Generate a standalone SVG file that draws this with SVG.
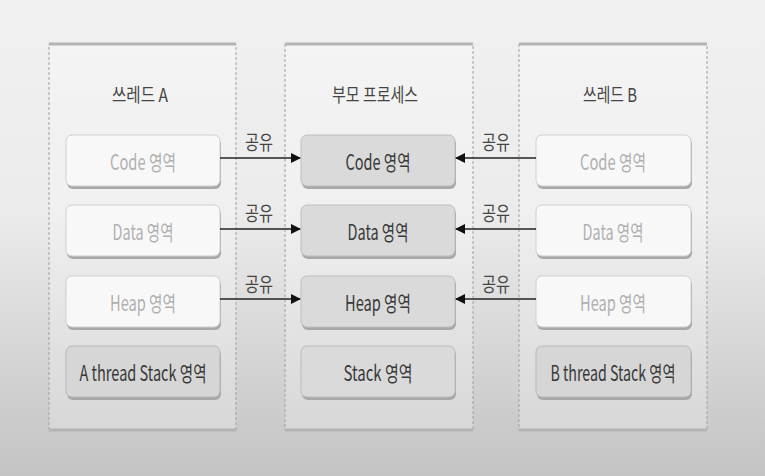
<svg xmlns="http://www.w3.org/2000/svg" width="765" height="476" viewBox="0 0 765 476">
<defs>
<linearGradient id="bg" x1="0" y1="0" x2="0" y2="1">
<stop offset="0" stop-color="#f1f1f1"/>
<stop offset="0.45" stop-color="#ebebeb"/>
<stop offset="1" stop-color="#c3c3c3"/>
</linearGradient>
<marker id="arr" viewBox="0 0 10 10" refX="9" refY="5" markerWidth="10" markerHeight="10" markerUnits="userSpaceOnUse" orient="auto">
<path d="M0,0 L10,5 L0,10 z" fill="#111"/>
</marker>
<style>
text{font-family:"Noto Sans CJK KR","Liberation Sans",sans-serif;text-anchor:middle;dominant-baseline:central;}
.cont{fill:#ffffff;fill-opacity:0.25;stroke:#a0a0a0;stroke-width:1;stroke-dasharray:3 2;}
.edge{stroke:#b4b4b4;stroke-width:3;}
.title{font-size:19px;fill:#444;}
.tbox{fill:#f8f8f8;stroke:#cfcfcf;stroke-width:1;}
.pbox{fill:#dadada;stroke:#bdbdbd;stroke-width:1;}
.sbox{fill:#d6d6d6;stroke:#b8b8b8;stroke-width:1;}
.shadow{fill:#a8a8a8;}
.tlight{font-size:21px;fill:#b0b0b0;}
.tdark{font-size:21px;fill:#383838;}
.share{font-size:20px;fill:#444;}
.conn{stroke:#222;stroke-width:1.5;fill:none;marker-end:url(#arr);}
</style>
</defs>
<rect x="0" y="0" width="765" height="476" fill="url(#bg)"/>

<g id="threadA">
<rect class="cont" x="49" y="44" width="187" height="386"/>
<line class="edge" x1="49" y1="44" x2="236" y2="44"/>
<line class="edge" x1="49" y1="430" x2="236" y2="430"/>
<text class="title" x="140" y="93" textLength="56" lengthAdjust="spacingAndGlyphs">쓰레드 A</text>
</g>
<g id="A-code"><rect class="shadow" x="67" y="138" width="154" height="51" rx="6"/><rect class="tbox" x="66" y="135" width="154" height="51" rx="6"/><text class="tlight" x="143" y="161" textLength="66" lengthAdjust="spacingAndGlyphs">Code 영역</text></g>
<g id="A-data"><rect class="shadow" x="67" y="208" width="154" height="51" rx="6"/><rect class="tbox" x="66" y="205" width="154" height="51" rx="6"/><text class="tlight" x="143" y="231" textLength="61" lengthAdjust="spacingAndGlyphs">Data 영역</text></g>
<g id="A-heap"><rect class="shadow" x="67" y="279" width="154" height="51" rx="6"/><rect class="tbox" x="66" y="276" width="154" height="51" rx="6"/><text class="tlight" x="143" y="302" textLength="66" lengthAdjust="spacingAndGlyphs">Heap 영역</text></g>
<g id="A-stack"><rect class="shadow" x="67" y="349" width="154" height="51" rx="6"/><rect class="sbox" x="66" y="346" width="154" height="51" rx="6"/><text class="tdark" x="143" y="372" textLength="127" lengthAdjust="spacingAndGlyphs">A thread Stack 영역</text></g>

<g id="parent">
<rect class="cont" x="285" y="44" width="188" height="386"/>
<line class="edge" x1="285" y1="44" x2="473" y2="44"/>
<line class="edge" x1="285" y1="430" x2="473" y2="430"/>
<text class="title" x="375" y="93" textLength="86" lengthAdjust="spacingAndGlyphs">부모 프로세스</text>
</g>
<g id="P-code"><rect class="shadow" x="302" y="138" width="154" height="51" rx="6"/><rect class="pbox" x="301" y="135" width="154" height="51" rx="6"/><text class="tdark" x="378" y="161" textLength="65" lengthAdjust="spacingAndGlyphs">Code 영역</text></g>
<g id="P-data"><rect class="shadow" x="302" y="208" width="154" height="51" rx="6"/><rect class="pbox" x="301" y="205" width="154" height="51" rx="6"/><text class="tdark" x="378" y="231" textLength="61" lengthAdjust="spacingAndGlyphs">Data 영역</text></g>
<g id="P-heap"><rect class="shadow" x="302" y="279" width="154" height="51" rx="6"/><rect class="pbox" x="301" y="276" width="154" height="51" rx="6"/><text class="tdark" x="378" y="302" textLength="66" lengthAdjust="spacingAndGlyphs">Heap 영역</text></g>
<g id="P-stack"><rect class="shadow" x="302" y="349" width="154" height="51" rx="6"/><rect class="pbox" x="301" y="346" width="154" height="51" rx="6"/><text class="tdark" x="378" y="372" textLength="69" lengthAdjust="spacingAndGlyphs">Stack 영역</text></g>

<g id="threadB">
<rect class="cont" x="519" y="44" width="188" height="386"/>
<line class="edge" x1="519" y1="44" x2="707" y2="44"/>
<line class="edge" x1="519" y1="430" x2="707" y2="430"/>
<text class="title" x="610" y="93" textLength="54" lengthAdjust="spacingAndGlyphs">쓰레드 B</text>
</g>
<g id="B-code"><rect class="shadow" x="537" y="138" width="155" height="51" rx="6"/><rect class="tbox" x="536" y="135" width="155" height="51" rx="6"/><text class="tlight" x="613" y="161" textLength="66" lengthAdjust="spacingAndGlyphs">Code 영역</text></g>
<g id="B-data"><rect class="shadow" x="537" y="208" width="155" height="51" rx="6"/><rect class="tbox" x="536" y="205" width="155" height="51" rx="6"/><text class="tlight" x="613" y="231" textLength="61" lengthAdjust="spacingAndGlyphs">Data 영역</text></g>
<g id="B-heap"><rect class="shadow" x="537" y="279" width="155" height="51" rx="6"/><rect class="tbox" x="536" y="276" width="155" height="51" rx="6"/><text class="tlight" x="613" y="302" textLength="66" lengthAdjust="spacingAndGlyphs">Heap 영역</text></g>
<g id="B-stack"><rect class="shadow" x="537" y="349" width="155" height="51" rx="6"/><rect class="sbox" x="536" y="346" width="155" height="51" rx="6"/><text class="tdark" x="613" y="372" textLength="125" lengthAdjust="spacingAndGlyphs">B thread Stack 영역</text></g>

<g id="connectors">
<line class="conn" x1="220" y1="158" x2="300" y2="158"/>
<line class="conn" x1="220" y1="229" x2="300" y2="229"/>
<line class="conn" x1="220" y1="299" x2="300" y2="299"/>
<line class="conn" x1="536" y1="158" x2="456" y2="158"/>
<line class="conn" x1="536" y1="229" x2="456" y2="229"/>
<line class="conn" x1="536" y1="299" x2="456" y2="299"/>
<text class="share" x="259" y="141" textLength="28" lengthAdjust="spacingAndGlyphs">공유</text>
<text class="share" x="259" y="212" textLength="28" lengthAdjust="spacingAndGlyphs">공유</text>
<text class="share" x="259" y="283" textLength="28" lengthAdjust="spacingAndGlyphs">공유</text>
<text class="share" x="496" y="141" textLength="28" lengthAdjust="spacingAndGlyphs">공유</text>
<text class="share" x="496" y="212" textLength="28" lengthAdjust="spacingAndGlyphs">공유</text>
<text class="share" x="496" y="283" textLength="28" lengthAdjust="spacingAndGlyphs">공유</text>
</g>
</svg>
